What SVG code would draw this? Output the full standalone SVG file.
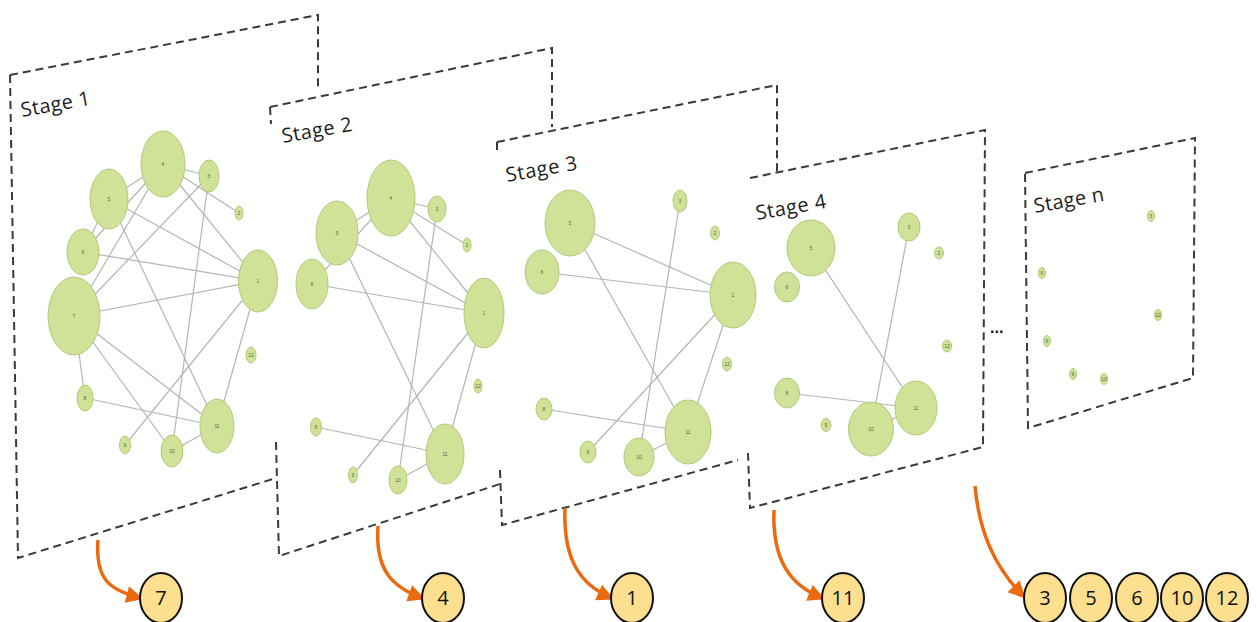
<svg xmlns="http://www.w3.org/2000/svg" width="1257" height="622" viewBox="0 0 1257 622">
  <style>
    .frame { fill: none; stroke: #3a3a3a; stroke-width: 2; stroke-dasharray: 8 5; }
    .stage { font-family: "Open Sans", "Liberation Sans", sans-serif; font-size: 20px; fill: #1e1e1e; }
    .node ellipse { fill: #cfe298; stroke: #b3c97a; stroke-width: 1; }
    .node text { font-family: "Liberation Sans", sans-serif; font-size: 5px; fill: #5a6b35; text-anchor: middle; dominant-baseline: central; }
    .edge line { stroke: #b4b4b4; stroke-width: 1.2; }
    .arrow { fill: none; stroke: #ec6a0f; stroke-width: 3.5; marker-end: url(#ah); }
    .out ellipse { fill: #fde08f; stroke: #111; stroke-width: 2; }
    .out text { font-family: "Open Sans", "Liberation Sans", sans-serif; font-size: 20px; fill: #111; text-anchor: middle; }
  </style>
  <defs>
    <marker id="ah" viewBox="0 0 10 10" refX="8" refY="5" markerWidth="20" markerHeight="17" markerUnits="userSpaceOnUse" orient="auto">
      <path d="M0,0 L10,5 L0,10 Z" fill="#ec6a0f"/>
    </marker>
  </defs>
  <rect width="1257" height="622" fill="#ffffff"/>

  <!-- stage frames: only the visible parts of each dashed outline -->
  <g id="frames">
    <path class="frame" d="M10,75 L318,15 L318,90 M10,75 L18,558 L276,478"/>
    <path class="frame" d="M270,107 L552,48 L552,127 M270,107 L271,124 M276,442 L279,556 L500,484"/>
    <path class="frame" d="M497,142 L777,85 L777,173 M497,142 L497,152 M500,470 L502,525 L738,460"/>
    <path class="frame" d="M750,178 L985,130 L983,447 L750,508 L748,453"/>
    <path class="frame" d="M1025,173 L1195,138 L1193,378 L1028,428 Z"/>
  </g>

  <!-- stage titles -->
  <g id="titles">
    <text class="stage" x="22" y="117" textLength="70" transform="rotate(-10 22 117)">Stage 1</text>
    <text class="stage" x="283" y="143" textLength="71" transform="rotate(-10 283 143)">Stage 2</text>
    <text class="stage" x="507" y="182" textLength="72" transform="rotate(-10 507 182)">Stage 3</text>
    <text class="stage" x="757" y="220" textLength="71" transform="rotate(-10 757 220)">Stage 4</text>
    <text class="stage" x="1035" y="213" textLength="71" transform="rotate(-10 1035 213)">Stage n</text>
    <text x="990" y="333" font-family="Liberation Sans, sans-serif" font-size="16" font-weight="bold" fill="#111">...</text>
  </g>

  <!-- graph edges -->
  <g id="connectors" class="edge">
    <!-- stage 1 -->
    <line x1="163" y1="164" x2="209" y2="176"/>
    <line x1="163" y1="164" x2="239" y2="213"/>
    <line x1="163" y1="164" x2="258" y2="281"/>
    <line x1="163" y1="164" x2="109" y2="199"/>
    <line x1="163" y1="164" x2="83" y2="252"/>
    <line x1="163" y1="164" x2="74" y2="316"/>
    <line x1="109" y1="199" x2="258" y2="281"/>
    <line x1="109" y1="199" x2="217" y2="426"/>
    <line x1="83" y1="252" x2="258" y2="281"/>
    <line x1="83" y1="252" x2="109" y2="199"/>
    <line x1="74" y1="316" x2="258" y2="281"/>
    <line x1="74" y1="316" x2="209" y2="176"/>
    <line x1="74" y1="316" x2="217" y2="426"/>
    <line x1="74" y1="316" x2="172" y2="451"/>
    <line x1="74" y1="316" x2="85" y2="398"/>
    <line x1="85" y1="398" x2="217" y2="426"/>
    <line x1="125" y1="445" x2="258" y2="281"/>
    <line x1="172" y1="451" x2="209" y2="176"/>
    <line x1="172" y1="451" x2="217" y2="426"/>
    <line x1="217" y1="426" x2="258" y2="281"/>
    <!-- stage 2 -->
    <line x1="391" y1="198" x2="437" y2="209"/>
    <line x1="391" y1="198" x2="467" y2="245"/>
    <line x1="391" y1="198" x2="484" y2="313"/>
    <line x1="337" y1="233" x2="391" y2="198"/>
    <line x1="312" y1="284" x2="391" y2="198"/>
    <line x1="337" y1="233" x2="484" y2="313"/>
    <line x1="337" y1="233" x2="445" y2="454"/>
    <line x1="312" y1="284" x2="484" y2="313"/>
    <line x1="437" y1="209" x2="398" y2="480"/>
    <line x1="353" y1="475" x2="484" y2="313"/>
    <line x1="316" y1="427" x2="445" y2="454"/>
    <line x1="398" y1="480" x2="445" y2="454"/>
    <line x1="445" y1="454" x2="484" y2="313"/>
    <!-- stage 3 -->
    <line x1="570" y1="223" x2="733" y2="295"/>
    <line x1="542" y1="272" x2="733" y2="295"/>
    <line x1="570" y1="223" x2="688" y2="432"/>
    <line x1="680" y1="201" x2="639" y2="457"/>
    <line x1="588" y1="452" x2="733" y2="295"/>
    <line x1="544" y1="409" x2="688" y2="432"/>
    <line x1="639" y1="457" x2="688" y2="432"/>
    <line x1="688" y1="432" x2="733" y2="295"/>
    <!-- stage 4 -->
    <line x1="811" y1="248" x2="916" y2="408"/>
    <line x1="909" y1="227" x2="871" y2="429"/>
    <line x1="787" y1="393" x2="916" y2="408"/>
    <line x1="871" y1="429" x2="916" y2="408"/>
  </g>

  <!-- stage 1 nodes -->
  <g id="s1-n4" class="node"><ellipse cx="163" cy="164" rx="22" ry="33"/><text x="163" y="164">4</text></g>
  <g id="s1-n3" class="node"><ellipse cx="209" cy="176" rx="10" ry="16"/><text x="209" y="176">3</text></g>
  <g id="s1-n2" class="node"><ellipse cx="239" cy="213" rx="4" ry="7"/><text x="239" y="213" font-size="3.5">2</text></g>
  <g id="s1-n5" class="node"><ellipse cx="109" cy="199" rx="19" ry="30"/><text x="109" y="199">5</text></g>
  <g id="s1-n6" class="node"><ellipse cx="83" cy="252" rx="16" ry="23"/><text x="83" y="252">6</text></g>
  <g id="s1-n7" class="node"><ellipse cx="74" cy="316" rx="26" ry="39"/><text x="74" y="316">7</text></g>
  <g id="s1-n1" class="node"><ellipse cx="258" cy="281" rx="19.5" ry="31"/><text x="258" y="281">1</text></g>
  <g id="s1-n12" class="node"><ellipse cx="251" cy="355" rx="5" ry="8"/><text x="251" y="355" font-size="3.5">12</text></g>
  <g id="s1-n8" class="node"><ellipse cx="85" cy="398" rx="8" ry="13"/><text x="85" y="398">8</text></g>
  <g id="s1-n9" class="node"><ellipse cx="125" cy="445" rx="5.5" ry="9"/><text x="125" y="445" font-size="3.5">9</text></g>
  <g id="s1-n10" class="node"><ellipse cx="172" cy="451" rx="11" ry="16"/><text x="172" y="451">10</text></g>
  <g id="s1-n11" class="node"><ellipse cx="217" cy="426" rx="17" ry="27"/><text x="217" y="426">11</text></g>

  <!-- stage 2 nodes -->
  <g id="s2-n4" class="node"><ellipse cx="391" cy="198" rx="24" ry="38"/><text x="391" y="198">4</text></g>
  <g id="s2-n3" class="node"><ellipse cx="437" cy="209" rx="9" ry="13"/><text x="437" y="209">3</text></g>
  <g id="s2-n2" class="node"><ellipse cx="467" cy="245" rx="4" ry="7"/><text x="467" y="245" font-size="3.5">2</text></g>
  <g id="s2-n5" class="node"><ellipse cx="337" cy="233" rx="21" ry="32"/><text x="337" y="233">5</text></g>
  <g id="s2-n6" class="node"><ellipse cx="312" cy="284" rx="16" ry="25"/><text x="312" y="284">6</text></g>
  <g id="s2-n1" class="node"><ellipse cx="484" cy="313" rx="20" ry="35"/><text x="484" y="313">1</text></g>
  <g id="s2-n12" class="node"><ellipse cx="478" cy="386" rx="4" ry="7"/><text x="478" y="386" font-size="3.5">12</text></g>
  <g id="s2-n8" class="node"><ellipse cx="316" cy="427" rx="5.5" ry="9"/><text x="316" y="427" font-size="3.5">8</text></g>
  <g id="s2-n9" class="node"><ellipse cx="353" cy="475" rx="4.5" ry="8"/><text x="353" y="475" font-size="3.5">9</text></g>
  <g id="s2-n10" class="node"><ellipse cx="398" cy="480" rx="9" ry="14"/><text x="398" y="480">10</text></g>
  <g id="s2-n11" class="node"><ellipse cx="445" cy="454" rx="19" ry="30"/><text x="445" y="454">11</text></g>

  <!-- stage 3 nodes -->
  <g id="s3-n5" class="node"><ellipse cx="570" cy="223" rx="25" ry="33"/><text x="570" y="223">5</text></g>
  <g id="s3-n3" class="node"><ellipse cx="680" cy="201" rx="7" ry="11"/><text x="680" y="201">3</text></g>
  <g id="s3-n2" class="node"><ellipse cx="715" cy="233" rx="4.5" ry="7"/><text x="715" y="233" font-size="3.5">2</text></g>
  <g id="s3-n6" class="node"><ellipse cx="542" cy="272" rx="17" ry="22"/><text x="542" y="272">6</text></g>
  <g id="s3-n1" class="node"><ellipse cx="733" cy="295" rx="23" ry="33"/><text x="733" y="295">1</text></g>
  <g id="s3-n12" class="node"><ellipse cx="727" cy="364" rx="4.5" ry="7"/><text x="727" y="364" font-size="3.5">12</text></g>
  <g id="s3-n8" class="node"><ellipse cx="544" cy="409" rx="8" ry="11"/><text x="544" y="409">8</text></g>
  <g id="s3-n9" class="node"><ellipse cx="588" cy="452" rx="8" ry="11"/><text x="588" y="452">9</text></g>
  <g id="s3-n10" class="node"><ellipse cx="639" cy="457" rx="15" ry="19"/><text x="639" y="457">10</text></g>
  <g id="s3-n11" class="node"><ellipse cx="688" cy="432" rx="23" ry="32"/><text x="688" y="432">11</text></g>

  <!-- stage 4 nodes -->
  <g id="s4-n5" class="node"><ellipse cx="811" cy="248" rx="24" ry="28"/><text x="811" y="248">5</text></g>
  <g id="s4-n3" class="node"><ellipse cx="909" cy="227" rx="11" ry="14"/><text x="909" y="227">3</text></g>
  <g id="s4-n2" class="node"><ellipse cx="939" cy="253" rx="4.5" ry="6"/><text x="939" y="253" font-size="3.5">2</text></g>
  <g id="s4-n6" class="node"><ellipse cx="787" cy="287" rx="12.5" ry="15"/><text x="787" y="287">6</text></g>
  <g id="s4-n12" class="node"><ellipse cx="947" cy="346" rx="4.5" ry="6"/><text x="947" y="346" font-size="3.5">12</text></g>
  <g id="s4-n8" class="node"><ellipse cx="787" cy="393" rx="12.5" ry="15"/><text x="787" y="393">8</text></g>
  <g id="s4-n9" class="node"><ellipse cx="826" cy="425" rx="5" ry="6.5"/><text x="826" y="425" font-size="3.5">9</text></g>
  <g id="s4-n10" class="node"><ellipse cx="871" cy="429" rx="22.5" ry="27"/><text x="871" y="429">10</text></g>
  <g id="s4-n11" class="node"><ellipse cx="916" cy="408" rx="21" ry="27"/><text x="916" y="408">11</text></g>

  <!-- stage n nodes -->
  <g id="sn-n3" class="node"><ellipse cx="1151" cy="216" rx="3.5" ry="5.5"/><text x="1151" y="216" font-size="3">3</text></g>
  <g id="sn-n6" class="node"><ellipse cx="1042" cy="273" rx="3.5" ry="5.5"/><text x="1042" y="273" font-size="3">6</text></g>
  <g id="sn-n12" class="node"><ellipse cx="1158" cy="315" rx="3.5" ry="5.5"/><text x="1158" y="315" font-size="3">12</text></g>
  <g id="sn-n8" class="node"><ellipse cx="1047" cy="341" rx="3.5" ry="5.5"/><text x="1047" y="341" font-size="3">8</text></g>
  <g id="sn-n9" class="node"><ellipse cx="1073" cy="374" rx="3.5" ry="5.5"/><text x="1073" y="374" font-size="3">9</text></g>
  <g id="sn-n10" class="node"><ellipse cx="1104" cy="379" rx="3.5" ry="5.5"/><text x="1104" y="379" font-size="3">10</text></g>

  <!-- orange removal arrows -->
  <g id="arrows">
    <path class="arrow" d="M98,540 C95,580 110,590 140,598"/>
    <path class="arrow" d="M378,526 C375,570 392,587 422,598"/>
    <path class="arrow" d="M565,508 C563,560 580,584 611,598"/>
    <path class="arrow" d="M774,510 C772,560 790,585 822,598"/>
    <path class="arrow" d="M975,486 C979,530 993,565 1023,596"/>
  </g>

  <!-- removed nodes -->
  <g id="out-7" class="out"><ellipse cx="161" cy="598" rx="21" ry="25"/><text x="161" y="605">7</text></g>
  <g id="out-4" class="out"><ellipse cx="443" cy="598" rx="21" ry="25"/><text x="443" y="605">4</text></g>
  <g id="out-1" class="out"><ellipse cx="632" cy="598" rx="21" ry="25"/><text x="632" y="605">1</text></g>
  <g id="out-11" class="out"><ellipse cx="843" cy="598" rx="21" ry="25"/><text x="843" y="605">11</text></g>
  <g id="out-3" class="out"><ellipse cx="1045" cy="598" rx="21" ry="25"/><text x="1045" y="605">3</text></g>
  <g id="out-5" class="out"><ellipse cx="1091" cy="598" rx="21" ry="25"/><text x="1091" y="605">5</text></g>
  <g id="out-6" class="out"><ellipse cx="1137" cy="598" rx="21" ry="25"/><text x="1137" y="605">6</text></g>
  <g id="out-10" class="out"><ellipse cx="1182" cy="598" rx="21" ry="25"/><text x="1182" y="605">10</text></g>
  <g id="out-12" class="out"><ellipse cx="1227" cy="598" rx="21" ry="25"/><text x="1227" y="605">12</text></g>
</svg>
